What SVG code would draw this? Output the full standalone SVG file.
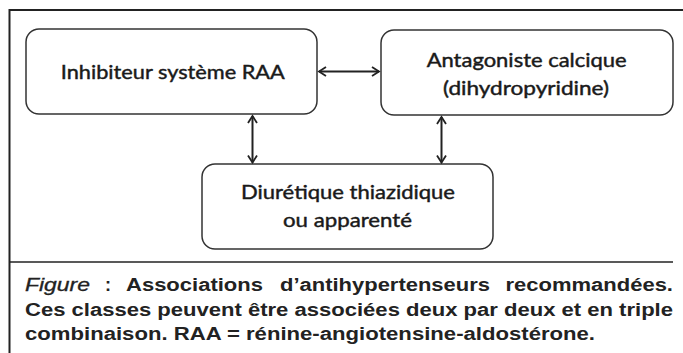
<svg xmlns="http://www.w3.org/2000/svg" width="683" height="353" viewBox="0 0 683 353">
<style>
.frame{stroke:#222;stroke-width:2;fill:none}
.sep{stroke:#222;stroke-width:1.3;fill:none}
.box{fill:#fff;stroke:#333;stroke-width:1.5}
.lbl{font-family:Lato,"Open Sans","Liberation Sans",sans-serif;font-size:20px;fill:#1a1a1a;stroke:#1a1a1a;stroke-width:0.45;text-anchor:middle}
.cap{font-family:"Liberation Sans",Arial,sans-serif;font-size:18px;font-weight:bold;fill:#222}
.capi{font-style:italic;font-weight:normal;stroke:#222;stroke-width:0.3}
.conn line{stroke:#222;stroke-width:2;marker-start:url(#ah);marker-end:url(#ah)}
</style>
<defs>
<marker id="ah" viewBox="-9 -6 11 12" refX="0" refY="0" markerWidth="11" markerHeight="12" markerUnits="userSpaceOnUse" orient="auto-start-reverse">
<path d="M-7,-4.5 L0,0 L-7,4.5" fill="none" stroke="#222" stroke-width="1.8"/>
</marker>
</defs>
<rect width="683" height="353" fill="#fff"/>
<path class="frame" d="M9.5,353 L9.5,10 L683,10"/>
<g id="n1">
<rect class="box" x="26" y="29" width="291" height="85" rx="13"/>
<text class="lbl" x="172.8" y="79" textLength="224" lengthAdjust="spacingAndGlyphs">Inhibiteur système RAA</text>
</g>
<g id="n2">
<rect class="box" x="381" y="30" width="292" height="85" rx="13"/>
<text class="lbl" x="526.7" y="66.5" textLength="200" lengthAdjust="spacingAndGlyphs">Antagoniste calcique</text>
<text class="lbl" x="526" y="95" textLength="166" lengthAdjust="spacingAndGlyphs">(dihydropyridine)</text>
</g>
<g id="n3">
<rect class="box" x="202" y="164" width="291" height="85" rx="13"/>
<text class="lbl" x="348" y="199" textLength="214" lengthAdjust="spacingAndGlyphs">Diurétique thiazidique</text>
<text class="lbl" x="347.5" y="226.5" textLength="129" lengthAdjust="spacingAndGlyphs">ou apparenté</text>
</g>
<g id="connectors" class="conn">
<line x1="319" y1="71.5" x2="379" y2="71.5"/>
<line x1="252.5" y1="116" x2="252.5" y2="162.5"/>
<line x1="441.5" y1="117" x2="441.5" y2="162.5"/>
</g>
<line class="sep" x1="10" y1="262" x2="673" y2="262"/>
<g id="caption">
<text class="cap capi" x="25" y="291" textLength="65" lengthAdjust="spacingAndGlyphs">Figure</text>
<text class="cap" x="105" y="291">:</text>
<text class="cap" x="126" y="291" textLength="137" lengthAdjust="spacingAndGlyphs">Associations</text>
<text class="cap" x="280" y="291" textLength="210" lengthAdjust="spacingAndGlyphs">d’antihypertenseurs</text>
<text class="cap" x="505.5" y="291" textLength="167.5" lengthAdjust="spacingAndGlyphs">recommandées.</text>
<text class="cap" x="25" y="316" textLength="648" lengthAdjust="spacingAndGlyphs">Ces classes peuvent être associées deux par deux et en triple</text>
<text class="cap" x="25" y="340" textLength="570" lengthAdjust="spacingAndGlyphs">combinaison. RAA = rénine-angiotensine-aldostérone.</text>
</g>
</svg>
